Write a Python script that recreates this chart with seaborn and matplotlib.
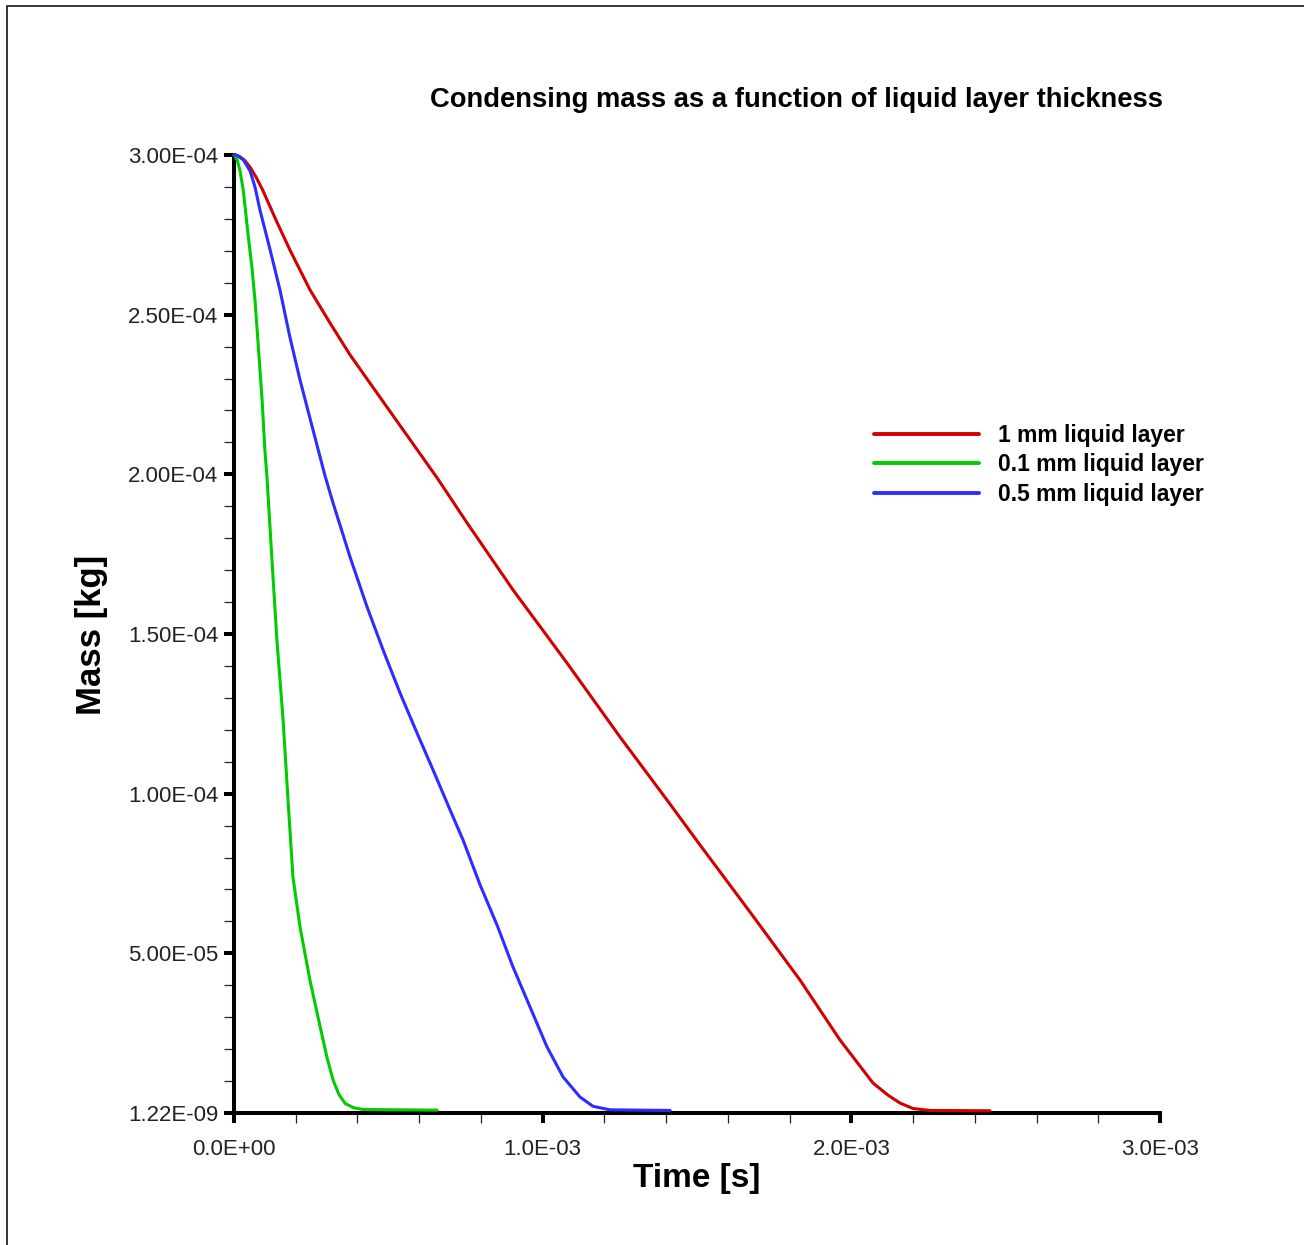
import matplotlib
matplotlib.use("Agg")
import matplotlib.pyplot as plt
import numpy as np
import pandas as pd
import seaborn as sns
from matplotlib.ticker import FixedLocator, FixedFormatter, MultipleLocator
from matplotlib.patches import Rectangle

# ---------------- data ----------------
series_labels = ["1 mm liquid layer", "0.1 mm liquid layer", "0.5 mm liquid layer"]
series_colors = ["#d20000", "#00cc00", "#2d2dff"]

time_1mm = [0.0, 0.010e-3, 0.020e-3, 0.035e-3, 0.052e-3, 0.072e-3, 0.094e-3, 0.139e-3,
            0.181e-3, 0.246e-3, 0.311e-3, 0.376e-3, 0.463e-3, 0.548e-3, 0.658e-3,
            0.755e-3, 0.904e-3, 1.079e-3, 1.251e-3, 1.403e-3, 1.510e-3, 1.672e-3,
            1.834e-3, 1.963e-3, 2.070e-3, 2.120e-3, 2.158e-3, 2.200e-3, 2.255e-3, 2.449e-3]
mass_1mm = [3.000e-4, 2.999e-4, 2.994e-4, 2.983e-4, 2.962e-4, 2.930e-4, 2.888e-4, 2.790e-4,
            2.703e-4, 2.578e-4, 2.474e-4, 2.374e-4, 2.255e-4, 2.139e-4, 1.989e-4,
            1.848e-4, 1.638e-4, 1.409e-4, 1.177e-4, 0.980e-4, 0.839e-4, 0.629e-4,
            0.416e-4, 0.229e-4, 0.094e-4, 0.055e-4, 0.031e-4, 0.014e-4, 0.008e-4, 0.007e-4]

time_01mm = [0.0, 0.010e-3, 0.019e-3, 0.030e-3, 0.045e-3, 0.058e-3, 0.068e-3, 0.078e-3,
             0.091e-3, 0.100e-3, 0.107e-3, 0.123e-3, 0.139e-3, 0.159e-3, 0.175e-3,
             0.191e-3, 0.214e-3, 0.246e-3, 0.272e-3, 0.301e-3, 0.321e-3, 0.340e-3,
             0.360e-3, 0.386e-3, 0.418e-3, 0.658e-3]
mass_01mm = [3.000e-4, 2.985e-4, 2.953e-4, 2.890e-4, 2.756e-4, 2.649e-4, 2.546e-4, 2.411e-4,
             2.233e-4, 2.076e-4, 1.989e-4, 1.732e-4, 1.481e-4, 1.231e-4, 0.980e-4,
             0.739e-4, 0.582e-4, 0.416e-4, 0.301e-4, 0.175e-4, 0.103e-4, 0.058e-4,
             0.030e-4, 0.017e-4, 0.011e-4, 0.009e-4]

time_05mm = [0.0, 0.010e-3, 0.030e-3, 0.052e-3, 0.068e-3, 0.084e-3, 0.117e-3, 0.149e-3,
             0.181e-3, 0.214e-3, 0.256e-3, 0.295e-3, 0.321e-3, 0.376e-3, 0.431e-3,
             0.483e-3, 0.538e-3, 0.593e-3, 0.645e-3, 0.700e-3, 0.742e-3, 0.797e-3,
             0.852e-3, 0.904e-3, 0.959e-3, 1.014e-3, 1.066e-3, 1.121e-3, 1.163e-3,
             1.218e-3, 1.413e-3]
mass_05mm = [3.000e-4, 2.998e-4, 2.985e-4, 2.950e-4, 2.900e-4, 2.828e-4, 2.703e-4, 2.577e-4,
             2.430e-4, 2.295e-4, 2.139e-4, 1.995e-4, 1.910e-4, 1.741e-4, 1.585e-4,
             1.450e-4, 1.315e-4, 1.190e-4, 1.074e-4, 0.949e-4, 0.855e-4, 0.715e-4,
             0.589e-4, 0.457e-4, 0.332e-4, 0.207e-4, 0.113e-4, 0.050e-4, 0.021e-4,
             0.010e-4, 0.008e-4]

x_ticks = [0.0, 1.0e-3, 2.0e-3, 3.0e-3]
x_tick_labels = ["0.0E+00", "1.0E-03", "2.0E-03", "3.0E-03"]
y_ticks = [1.22e-9, 5.0e-5, 1.0e-4, 1.5e-4, 2.0e-4, 2.5e-4, 3.0e-4]
y_tick_labels = ["1.22E-09", "5.00E-05", "1.00E-04", "1.50E-04", "2.00E-04", "2.50E-04", "3.00E-04"]

title_text = "Condensing mass as a function of liquid layer thickness"
x_label = "Time [s]"
y_label = "Mass [kg]"

# ---------------- build table ----------------
frames = []
for lab, t, m in [(series_labels[0], time_1mm, mass_1mm),
                  (series_labels[1], time_01mm, mass_01mm),
                  (series_labels[2], time_05mm, mass_05mm)]:
    frames.append(pd.DataFrame({"time": t, "mass": m, "series": lab}))
df = pd.concat(frames, ignore_index=True)

# ---------------- style ----------------
sns.set_theme(style="white")
plt.rcParams["font.family"] = ["Liberation Sans", "DejaVu Sans"]
plt.rcParams["text.color"] = "black"

W, H = 1304, 1245
fig = plt.figure(figsize=(W / 100, H / 100), dpi=100)
fig.patch.set_facecolor("white")

ax_l, ax_r, ax_t, ax_b = 234, 1160, 155, 1113
ax = fig.add_axes([ax_l / W, 1 - ax_b / H, (ax_r - ax_l) / W, (ax_b - ax_t) / H])
ax.set_facecolor("white")

sns.lineplot(data=df, x="time", y="mass", hue="series", hue_order=series_labels,
             palette=dict(zip(series_labels, series_colors)), sort=False,
             estimator=None, linewidth=2.2, ax=ax, legend=True)
for ln in ax.get_lines():
    ln.set_clip_on(False)
    ln.set_zorder(3)

ax.set_xlim(0, 3.0e-3)
ax.set_ylim(1.22e-9, 3.0e-4)

# spines
for side in ["top", "right"]:
    ax.spines[side].set_visible(False)
for side in ["left", "bottom"]:
    ax.spines[side].set_linewidth(2.9)
    ax.spines[side].set_color("black")
    ax.spines[side].set_zorder(2.5)

# ticks
ax.xaxis.set_major_locator(FixedLocator(x_ticks))
ax.xaxis.set_major_formatter(FixedFormatter(x_tick_labels))
ax.xaxis.set_minor_locator(MultipleLocator(2.0e-4))
ax.yaxis.set_major_locator(FixedLocator(y_ticks))
ax.yaxis.set_major_formatter(FixedFormatter(y_tick_labels))
ax.yaxis.set_minor_locator(MultipleLocator(1.0e-5))

ax.tick_params(axis="both", which="major", direction="out", length=7.2, width=2.9,
               color="black", labelsize=16, labelcolor="#222222", bottom=True, left=True)
ax.tick_params(axis="x", which="major", pad=11.5)
ax.tick_params(axis="y", which="major", pad=4)
ax.tick_params(axis="both", which="minor", direction="out", length=7.2, width=0.9,
               color="#222222", bottom=True, left=True)
ax.grid(False)

# axis labels
ax.set_xlabel(x_label, fontsize=24, fontweight="bold", color="black")
ax.set_ylabel(y_label, fontsize=25, fontweight="bold", color="black")
ax.xaxis.set_label_coords(0.5, (ax_b - 1178) / (ax_b - ax_t))
ax.xaxis.label.set_va("center")
ax.yaxis.set_label_coords((92 - ax_l) / (ax_r - ax_l), (ax_b - 635) / (ax_b - ax_t))
ax.yaxis.label.set_va("center")

# title
fig.text(797 / W, 1 - 100 / H, title_text, ha="center", va="center",
         fontsize=19.7, fontweight="bold", color="black")

# legend
fs_leg = 16.5
leg = ax.legend(loc="center left", bbox_to_anchor=(874 / W, 1 - 465 / H),
                bbox_transform=fig.transFigure, frameon=False,
                prop={"size": fs_leg, "weight": "bold"},
                handlelength=75.6 / fs_leg, handletextpad=13.7 / fs_leg,
                labelspacing=0.27, borderpad=0.0, borderaxespad=0.0)
for h in leg.get_lines():
    h.set_linewidth(2.8)

# outer frame
fig.patches.append(Rectangle((7 / W, -0.05), 1.2, 1 - 6 / H + 0.05, transform=fig.transFigure,
                             fill=False, edgecolor="black", linewidth=1.1, zorder=0))

fig.savefig("out.png", dpi=100, facecolor="white")
